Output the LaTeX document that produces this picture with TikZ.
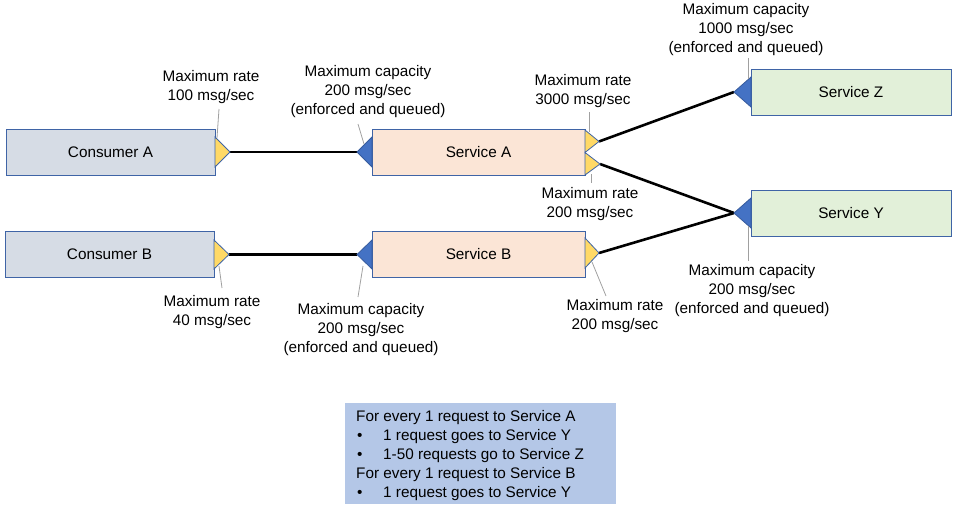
\documentclass[tikz,border=0pt]{standalone}
\usepackage{fontspec}
\setmainfont{Liberation Sans}
\definecolor{consumer}{HTML}{D6DCE5}
\definecolor{service}{HTML}{FBE5D6}
\definecolor{target}{HTML}{E2F0D9}
\definecolor{boxline}{HTML}{3F64A6}
\definecolor{yel}{HTML}{FFD966}
\definecolor{blu}{HTML}{4472C4}
\definecolor{legendfill}{HTML}{B4C7E7}
\definecolor{leadgray}{HTML}{A0A0A0}
\begin{document}
\begin{tikzpicture}[x=1pt,y=-1pt,
  every node/.style={font=\fontsize{15.3}{19}\selectfont, text=black},
  box/.style={draw=boxline, line width=0.8pt, minimum height=46pt, inner sep=0pt},
  yeltri/.style={fill=yel, draw=boxline, line width=0.8pt, line join=miter},
  blutri/.style={fill=blu, draw=blu!80!black, line width=0.8pt, line join=miter},
  conn/.style={line width=2.6pt, draw=black},
  leader/.style={draw=leadgray, line width=0.8pt},
  lbl/.style={align=center, inner sep=0pt},
  legtext/.style={anchor=base west, inner sep=0pt}]
\path[use as bounding box] (0,0) rectangle (971,511);

% boxes
\node[box, fill=consumer, minimum width=209pt] (ca) at (110.5,152) {Consumer A};
\node[box, fill=consumer, minimum width=209pt] (cb) at (109.5,254.5) {Consumer B};
\node[box, fill=service, minimum width=213pt] (sa) at (478.5,152) {Service A};
\node[box, fill=service, minimum width=213pt] (sb) at (478.5,254.5) {Service B};
\node[box, fill=target, minimum width=200pt] (sz) at (851,92) {Service Z};
\node[box, fill=target, minimum width=200pt] (sy) at (851,213) {Service Y};

% ports
\coordinate (caO) at (230,152);
\coordinate (cbO) at (229,254.5);
\coordinate (saI) at (357,152);
\coordinate (sbI) at (357,254.5);
\coordinate (saO1) at (599,141.5);
\coordinate (saO2) at (600,164);
\coordinate (sbO) at (599,253);
\coordinate (szI) at (734,92);
\coordinate (syI) at (734,213);

% connectors
\draw[conn] (caO) -- (saI);
\draw[conn] (cbO) -- (sbI);
\draw[conn] (saO1) -- (szI);
\draw[conn] (saO2) -- (syI);
\draw[conn] (sbO) -- (syI);

% triangles
\draw[yeltri] (215,137) -- (caO) -- (215,167) -- cycle;
\draw[yeltri] (214,240) -- (cbO) -- (214,269) -- cycle;
\draw[blutri] (372,137) -- (saI) -- (372,167) -- cycle;
\draw[blutri] (372,240) -- (sbI) -- (372,269) -- cycle;
\draw[yeltri] (585,130) -- (saO1) -- (585,152.5) -- cycle;
\draw[yeltri] (585,152.5) -- (saO2) -- (585,175) -- cycle;
\draw[yeltri] (585,238) -- (sbO) -- (585,268) -- cycle;
\draw[blutri] (751,77) -- (szI) -- (751,107) -- cycle;
\draw[blutri] (751,198) -- (syI) -- (751,228) -- cycle;

% labels
\node[lbl] (l1) at (211,87.5) {Maximum rate\\100 msg/sec};
\node[lbl] (l2) at (368,91.5) {Maximum capacity\\200 msg/sec\\(enforced and queued)};
\node[lbl] (l3) at (583,91.5) {Maximum rate\\3000 msg/sec};
\node[lbl] (l4) at (590,204.5) {Maximum rate\\200 msg/sec};
\node[lbl] (l5) at (746,30) {Maximum capacity\\1000 msg/sec\\(enforced and queued)};
\node[lbl] (l6) at (752,290.5) {Maximum capacity\\200 msg/sec\\(enforced and queued)};
\node[lbl] (l7) at (615,316.5) {Maximum rate\\200 msg/sec};
\node[lbl] (l8) at (212,312.5) {Maximum rate\\40 msg/sec};
\node[lbl] (l9) at (361,330) {Maximum capacity\\200 msg/sec\\(enforced and queued)};

% leader lines
\draw[leader] (219,109) -- (217,138);
\draw[leader] (358,124) -- (364,144);
\draw[leader] (589,112) -- (589,132);
\draw[leader] (591,174) -- (591,183);
\draw[leader] (748,58) -- (748,79);
\draw[leader] (748,226) -- (748,261);
\draw[leader] (592,262) -- (606,296);
\draw[leader] (219,266) -- (222,288);
\draw[leader] (363,266) -- (358,297);

% legend
\node[fill=legendfill, minimum width=271pt, minimum height=101pt, inner sep=0pt] (leg) at (480.5,453.5) {};
\node[legtext] (t1) at (356,421.5) {For every 1 request to Service A};
\node[legtext] (b2) at (357,440.5) {•};
\node[legtext] (t2) at (383,440.5) {1 request goes to Service Y};
\node[legtext] (b3) at (357,459.5) {•};
\node[legtext] (t3) at (383,459.5) {1-50 requests go to Service Z};
\node[legtext] (t4) at (356,478.5) {For every 1 request to Service B};
\node[legtext] (b5) at (357,497.5) {•};
\node[legtext] (t5) at (383,497.5) {1 request goes to Service Y};
\end{tikzpicture}
\end{document}
